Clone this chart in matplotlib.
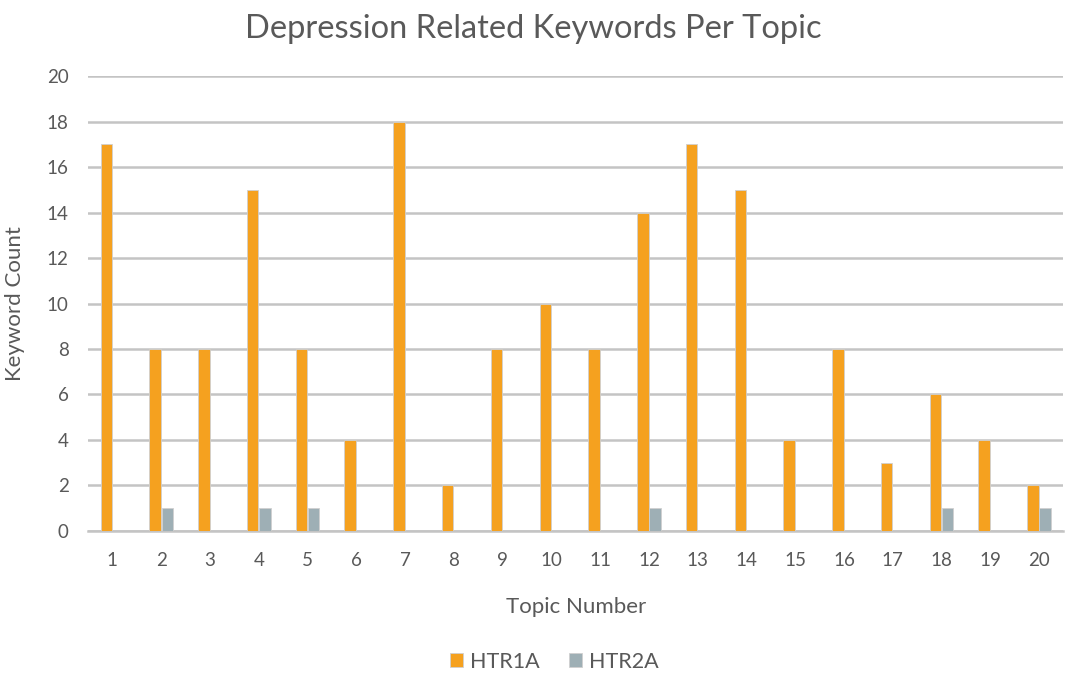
import matplotlib
matplotlib.use("Agg")
import matplotlib.pyplot as plt
import numpy as np

topics = [str(i) for i in range(1, 21)]
htr1a = [17, 8, 8, 15, 8, 4, 18, 2, 8, 10, 8, 14, 17, 15, 4, 8, 3, 6, 4, 2]
htr2a = [0, 1, 0, 1, 1, 0, 0, 0, 0, 0, 0, 1, 0, 0, 0, 0, 0, 1, 0, 1]
yticks = list(range(0, 21, 2))

plt.rcParams['font.family'] = ['Lato', 'DejaVu Sans']
txt = '#595959'

fig = plt.figure(figsize=(10.66, 6.79), dpi=100)
ax = fig.add_axes([0.0826, 0.218, 0.915, 0.670])

x = np.arange(len(topics))
w = 0.235
ax.bar(x - 0.125, htr1a, width=w, color='#F5A11F', edgecolor='#d0d0d0', linewidth=0.6, label='HTR1A', zorder=3)
ax.bar(x + 0.125, htr2a, width=w, color='#9EAFB5', edgecolor='#d0d0d0', linewidth=0.6, label='HTR2A', zorder=3)

ax.set_xlim(-0.5, len(topics) - 0.5)
ax.set_ylim(0, 20)
ax.set_yticks(yticks)
ax.set_xticks(x)
ax.set_xticklabels(topics)
ax.yaxis.grid(True, color='#c4c4c4', linewidth=1.8, zorder=0)
ax.set_axisbelow(True)
for s in ['top', 'right', 'left']:
    ax.spines[s].set_visible(False)
ax.spines['bottom'].set_color('#c4c4c4')
ax.spines['bottom'].set_linewidth(1.8)
ax.tick_params(axis='both', length=0, labelsize=13.5, labelcolor=txt)
ax.tick_params(axis='x', pad=15)
ax.tick_params(axis='y', pad=14)

ax.set_xlabel('Topic Number', fontsize=16, color=txt, labelpad=20)
ax.set_ylabel('Keyword Count', fontsize=16, color=txt, labelpad=16)
fig.suptitle('Depression Related Keywords Per Topic', fontsize=23.5, color=txt, y=0.98)

fig.legend(loc='lower center', bbox_to_anchor=(0.52, -0.018), ncol=2, frameon=False,
           fontsize=15.5, labelcolor=txt, handlelength=0.6, handleheight=0.6,
           handletextpad=0.3, columnspacing=1.4)

fig.savefig('out.png', dpi=100, facecolor='white')
